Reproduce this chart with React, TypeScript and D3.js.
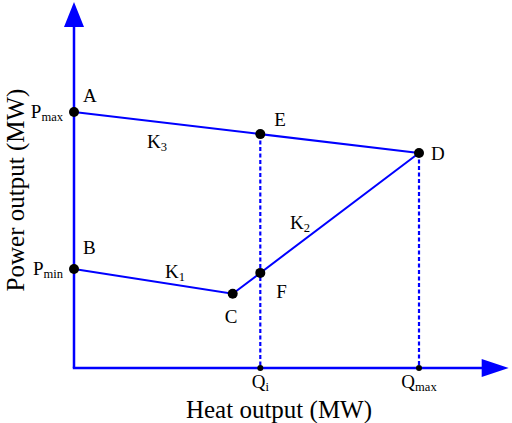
import React from 'react';
import * as d3 from 'd3';

// operating region corner points (heat %, power %)
const pointNames = ['A', 'E', 'D', 'B', 'C'];
const heatValues = [0, 54, 100, 0, 46];
const powerValues = [100, 0, 84, 38.7, 29];
const qiHeat = 54;
const axisMaxHeat = 126;
const axisMaxPower = 143;

const W = 512;
const H = 423;
const BLUE = '#0000ff';
const FONT = '"Liberation Serif", "Times New Roman", serif';

const App = () => {
  const x = d3.scaleLinear().domain([0, 100]).range([74, 419]);
  const y = d3.scaleLinear().domain([0, 100]).range([368, 112]);

  const pt = (name: string) => {
    const i = pointNames.indexOf(name);
    return { h: heatValues[i], p: powerValues[i] };
  };
  const A = pt('A');
  const D = pt('D');
  const B = pt('B');
  const C = pt('C');
  // E lies on A-D, F lies on C-D at Qi
  const E = { h: qiHeat, p: A.p + ((D.p - A.p) * (qiHeat - A.h)) / (D.h - A.h) };
  const F = { h: qiHeat, p: C.p + ((D.p - C.p) * (qiHeat - C.h)) / (D.h - C.h) };

  const line = d3
    .line<{ h: number; p: number }>()
    .x((d) => x(d.h))
    .y((d) => y(d.p));

  const x0 = x(0);
  const y0 = y(0);
  const xEnd = x(axisMaxHeat);
  const yEnd = y(axisMaxPower);

  const dots = [A, E, D, B, C, F];
  const label = (txt: string, sub: string | null, lx: number, ly: number, anchor = 'start', size = 19) => (
    <text x={lx} y={ly} fontSize={size} textAnchor={anchor} fill="#000" fontFamily={FONT}>
      {txt}
      {sub && (
        <tspan fontSize={size * 0.66} dy={size * 0.14}>
          {sub}
        </tspan>
      )}
    </text>
  );

  return (
    <svg width={W} height={H} style={{ position: 'absolute', left: 0, top: 0 }}>
      <rect width={W} height={H} fill="#fff" />
      {/* axes */}
      <line x1={x0} y1={y0} x2={x0} y2={yEnd + 22} stroke={BLUE} strokeWidth={2.5} />
      <polygon points={`${x0},${yEnd} ${x0 - 10},${yEnd + 25} ${x0 + 10},${yEnd + 25}`} fill={BLUE} />
      <line x1={x0 - 1.2} y1={y0} x2={xEnd - 25} y2={y0} stroke={BLUE} strokeWidth={2.5} />
      <polygon points={`${xEnd},${y0} ${xEnd - 27},${y0 - 9} ${xEnd - 27},${y0 + 9}`} fill={BLUE} />

      {/* dashed guides */}
      <line x1={x(E.h)} y1={y(E.p)} x2={x(E.h)} y2={y0} stroke={BLUE} strokeWidth={2.2} strokeDasharray="4,2.5" />
      <line x1={x(D.h)} y1={y(D.p)} x2={x(D.h)} y2={y0} stroke={BLUE} strokeWidth={2.2} strokeDasharray="4,2.5" />

      {/* boundary */}
      <path d={line([A, D]) ?? ''} fill="none" stroke={BLUE} strokeWidth={2} />
      <path d={line([B, C, D]) ?? ''} fill="none" stroke={BLUE} strokeWidth={2} />

      {dots.map((d, i) => (
        <circle key={i} cx={x(d.h)} cy={y(d.p)} r={5} fill="#000" />
      ))}
      <circle cx={x(qiHeat)} cy={y0} r={3} fill="#000" />
      <circle cx={x(100)} cy={y0} r={3} fill="#000" />

      {/* point labels */}
      {label('A', null, x(A.h) + 9, y(A.p) - 10)}
      {label('B', null, x(B.h) + 9, y(B.p) - 15)}
      {label('C', null, x(C.h) - 8, y(C.p) + 29)}
      {label('D', null, x(D.h) + 12, y(D.p) + 7)}
      {label('E', null, x(E.h) + 14, y(E.p) - 8)}
      {label('F', null, x(F.h) + 16, y(F.p) + 25)}
      {label('K', '3', 147, 148)}
      {label('K', '1', 165, 278)}
      {label('K', '2', 290, 229)}
      {label('P', 'max', 63, y(A.p) + 6, 'end')}
      {label('P', 'min', 63, y(B.p) + 6, 'end')}
      {label('Q', 'i', x(qiHeat), 388, 'middle')}
      {label('Q', 'max', x(100), 388, 'middle')}

      {/* axis titles */}
      <text x={279} y={418} fontSize={25} textAnchor="middle" fontFamily={FONT} fill="#000">
        Heat output (MW)
      </text>
      <text
        transform={`translate(24, 190) rotate(-90)`}
        fontSize={25}
        textAnchor="middle"
        fontFamily={FONT}
        fill="#000"
      >
        Power output (MW)
      </text>
    </svg>
  );
};

export default App;
